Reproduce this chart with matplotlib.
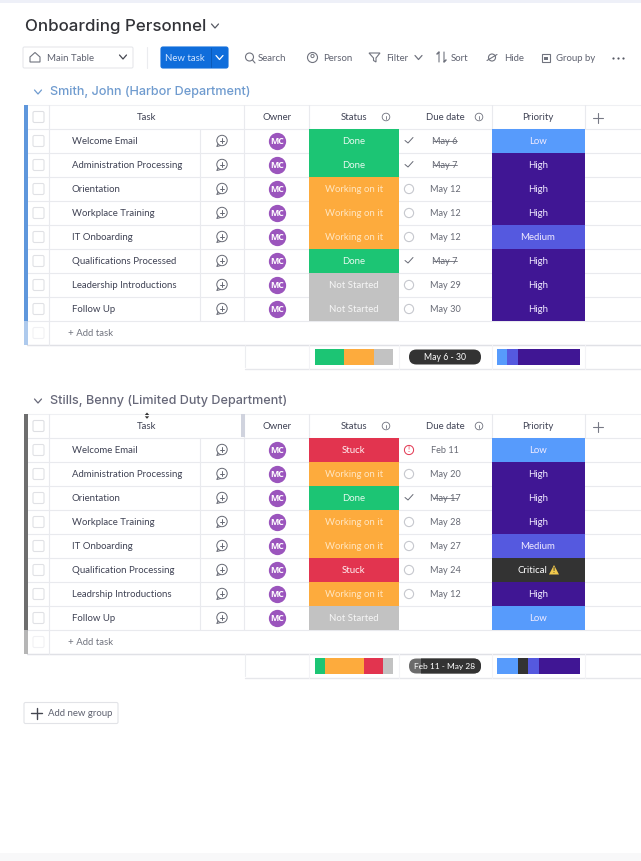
import matplotlib
matplotlib.use("Agg")
import matplotlib.pyplot as plt
from matplotlib.patches import Circle, FancyBboxPatch, Rectangle, Polygon

plt.rcParams["font.family"] = ["Lato", "DejaVu Sans"]

# datos
tareas_1 = ["Welcome Email", "Administration Processing", "Orientation", "Workplace Training",
            "IT Onboarding", "Qualifications Processed", "Leadership Introductions", "Follow Up"]
estado_1 = ["Done", "Done", "Working on it", "Working on it", "Working on it", "Done",
            "Not Started", "Not Started"]
fecha_1 = ["May 6", "May 7", "May 12", "May 12", "May 12", "May 7", "May 29", "May 30"]
prioridad_1 = ["Low", "High", "High", "High", "Medium", "High", "High", "High"]

tareas_2 = ["Welcome Email", "Administration Processing", "Orientation", "Workplace Training",
            "IT Onboarding", "Qualification Processing", "Leadrship Introductions", "Follow Up"]
estado_2 = ["Stuck", "Working on it", "Done", "Working on it", "Working on it", "Stuck",
            "Working on it", "Not Started"]
fecha_2 = ["Feb 11", "May 20", "May 17", "May 28", "May 27", "May 24", "May 12", ""]
prioridad_2 = ["Low", "High", "High", "High", "Medium", "Critical", "High", "Low"]

colores_estado = {"Done": "#1CC574", "Working on it": "#FDAB3D", "Stuck": "#E2344F", "Not Started": "#C2C2C2"}
texto_estado = {"Done": "#E6F9EF", "Working on it": "#FFE6C2", "Stuck": "#FFF0F2", "Not Started": "#F6F6F6"}
colores_prioridad = {"Low": "#579BFC", "Critical": "#333333", "Medium": "#5559DF", "High": "#401694"}
orden_estado = ["Done", "Working on it", "Stuck", "Not Started"]
orden_prioridad = ["Low", "Critical", "Medium", "High"]

herramientas = [(258, "Search"), (323, "Person"), (386, "Filter"), (451, "Sort"), (504, "Hide"), (556, "Group by")]

TXT = "#3F4254"
LINEA = "#E9EAEE"
ICONO = "#70737E"

fig = plt.figure(figsize=(6.41, 8.61), dpi=100)
ax = fig.add_axes([0, 0, 1, 1])
ax.set_xlim(0, 641)
ax.set_ylim(861, 0)
ax.axis("off")


def texto(x, y, s, size=6.9, color=TXT, ha="center", **kw):
    return ax.text(x, y + 0.7, s, fontsize=size, color=color, ha=ha, va="center", **kw)


def linea(xs, ys, color=LINEA, lw=0.8, **kw):
    ax.plot(xs, ys, color=color, lw=lw, solid_capstyle="round", **kw)


def caja(x0, y0, x1, y1, color="none", borde=LINEA, lw=0.8, r=1.5, z=2):
    p = FancyBboxPatch((x0 + r, y0 + r), x1 - x0 - 2 * r, y1 - y0 - 2 * r,
                       boxstyle=f"round,pad={r},rounding_size={r}",
                       fc=color, ec=borde, lw=lw, zorder=z)
    ax.add_patch(p)
    return p


def flecha(x, y, w=3.5, h=2, color=ICONO, lw=0.9):
    linea([x - w, x, x + w], [y - h, y + h, y - h], color=color, lw=lw)


def info(x, y):
    ax.add_patch(Circle((x, y), 3.8, fc="none", ec=ICONO, lw=0.6))
    linea([x, x], [y - 0.6, y + 1.9], color=ICONO, lw=0.6)
    linea([x, x], [y - 1.9, y - 1.7], color=ICONO, lw=0.6)


def comentario(x, y):
    c = "#666974"
    ax.add_patch(Circle((x, y), 5.2, fc="white", ec=c, lw=0.7))
    linea([x - 4, x - 5.2, x - 1.5], [y + 3.5, y + 6, y + 5.1], color=c, lw=0.7)
    linea([x - 2.4, x + 2.4], [y, y], color=c, lw=0.7)
    linea([x, x], [y - 2.4, y + 2.4], color=c, lw=0.7)


def grupo(y_top, titulo, color_titulo, color_barra, tareas, estado, fecha, prioridad):
    y_head = y_top + 11.5
    y_filas = y_top + 24
    n = len(tareas)
    y_add = y_filas + 24 * n
    y_fin = y_add + 24
    y_sum = y_fin + 24

    # titulo del grupo
    flecha(38, y_top - 13, color=color_titulo)
    texto(50, y_top - 14, titulo, size=9.1, color=color_titulo, ha="left",
          family=["Inter", "DejaVu Sans"], weight="medium")

    # fondo y barra lateral
    ax.add_patch(Rectangle((24, y_top), 3.5, y_add - y_top, fc=color_barra, ec="none", zorder=3))
    ax.add_patch(Rectangle((24, y_add), 3.5, 24, fc=color_barra, ec="none", alpha=0.5, zorder=3))
    linea([27, 641], [y_top, y_top], color="#EFF0F3")
    linea([27, 641], [y_filas, y_filas])
    for i in range(1, n + 2):
        linea([27, 641], [y_filas + 24 * i, y_filas + 24 * i])
    linea([27, 641], [y_fin, y_fin], color="#E0E1E6", lw=1.0)

    # columnas
    linea([49, 49], [y_top, y_fin])
    linea([200, 200], [y_filas, y_add])
    linea([244, 244], [y_top, y_add])
    linea([309, 309], [y_top, y_filas])
    linea([492, 492], [y_top, y_filas])
    linea([585, 585], [y_top, y_filas])

    # encabezado
    texto(147, y_head, "Task")
    texto(277, y_head, "Owner")
    texto(354, y_head, "Status")
    info(386, y_head + 0.5)
    texto(445, y_head, "Due date")
    info(479, y_head + 0.5)
    texto(538, y_head, "Priority")
    linea([593, 603], [y_head + 1, y_head + 1], color="#777985", lw=0.8)
    linea([598, 598], [y_head - 4, y_head + 6], color="#777985", lw=0.8)
    caja(33, y_head - 5, 44, y_head + 6, borde="#DEDFE3")

    # filas
    centros = [y_filas + 12 + 24 * i for i in range(n)]
    ax.barh(centros, [90] * n, left=309, height=23.2,
            color=[colores_estado[e] for e in estado], zorder=2)
    ax.barh(centros, [93] * n, left=492, height=23.2,
            color=[colores_prioridad[p] for p in prioridad], zorder=2)
    ax.scatter([277] * n, centros, s=155, color="#9B55BD", zorder=3, linewidths=0)

    for y, t, e, f, p in zip(centros, tareas, estado, fecha, prioridad):
        caja(33, y - 5.5, 44, y + 5.5, borde="#E0E1E5")
        texto(72, y, t, ha="left")
        comentario(222, y - 0.5)
        texto(277, y - 0.5, "MC", size=6.3, color="white", weight="bold", zorder=4,
              family=["Open Sans", "DejaVu Sans"])
        texto(354, y, e, color=texto_estado[e], zorder=4)
        if p == "Critical":
            texto(532, y, p, color="white", zorder=4)
            ax.add_patch(Polygon([[549, y + 4.5], [559, y + 4.5], [554, y - 5]], fc="#F2C94C", ec="none", zorder=4))
            texto(554, y, "!", size=5, color="#333333", weight="bold", zorder=5)
        else:
            texto(538, y, p, color="#F1EBFF", zorder=4)
        if f == "":
            continue
        texto(445, y - 0.5, f, size=6.6, color="#666974")
        if e == "Done":
            linea([405, 408, 413], [y - 0.5, y + 2, y - 3.5], color="#666974", lw=0.7)
            linea([433, 457], [y, y], color="#666974", lw=0.6)
        elif f == "Feb 11":
            ax.add_patch(Circle((409, y), 4.6, fc="none", ec="#E2344F", lw=0.7))
            texto(409, y - 0.7, "!", size=5.5, color="#E2344F")
        else:
            ax.add_patch(Circle((409, y), 4.6, fc="none", ec="#C6C8CE", lw=0.8))

    # agregar tarea
    caja(33, y_add + 6.5, 44, y_add + 17.5, borde="#F1F1F4")
    texto(67.5, y_add + 12, "+ Add task", color="#71747F", ha="left")

    # fila resumen
    y_c = y_fin + 12
    linea([245, 641], [y_sum, y_sum], color="#E6E7EB", lw=1.0)
    linea([245, 245], [y_fin, y_sum - 2], color="#ECEDF0")
    for x in [309, 399, 492, 585]:
        linea([x, x], [y_fin, y_sum], color="#F3F3F6")

    izq = 315.0
    for e in orden_estado:
        w = 78 * estado.count(e) / n
        ax.barh(y_c, w, left=izq, height=16, color=colores_estado[e], zorder=3)
        izq += w
    izq = 497.0
    for p in orden_prioridad:
        w = 83 * prioridad.count(p) / n
        ax.barh(y_c, w, left=izq, height=16, color=colores_prioridad[p], zorder=3)
        izq += w


# franja superior e inferior
ax.add_patch(Rectangle((0, 0), 641, 3, fc="#EEF0F8", ec="none"))
ax.add_patch(Rectangle((0, 853), 641, 8, fc="#F8F8F9", ec="none"))

# encabezado de la pagina
texto(25, 25.5, "Onboarding Personnel", size=12.2, color="#323338", ha="left",
      family=["Inter", "DejaVu Sans"], weight="medium")
flecha(215, 26, color="#555862")

caja(23, 47, 133, 68, color="white", borde="#E6E7EB")
ax.add_patch(Polygon([[30, 57], [35, 52.5], [40, 57], [40, 62], [30, 62]], fc="none", ec=ICONO, lw=0.8, zorder=3))
texto(47, 57.5, "Main Table", ha="left", color="#5F6270")
flecha(123, 57, color="#444650")
linea([147, 147], [47, 68], color="#EBECEF")
caja(161, 47, 228, 68, color="#0F6DDB", borde="#0F6DDB", r=2)
texto(185, 57.5, "New task", color="#CFE4FF")
linea([211, 211], [48, 67], color="#0A5AB8", lw=0.7)
flecha(219.5, 57.5, color="white")

for x, s in herramientas:
    texto(x, 57.5, s, ha="left", color="#5F6270")
ax.add_patch(Circle((249.5, 57), 4, fc="none", ec=ICONO, lw=0.8))
linea([252.5, 255], [60, 63], color=ICONO)
ax.add_patch(Circle((312.5, 57.5), 5, fc="none", ec=ICONO, lw=0.8))
ax.add_patch(Circle((312.5, 56), 1.6, fc="none", ec=ICONO, lw=0.7))
ax.add_patch(Polygon([[369, 53], [380, 53], [376, 58], [376, 62], [373.5, 60.5], [373.5, 58]], fc="none", ec=ICONO, lw=0.8))
flecha(418.5, 57.5)
linea([439, 439, 437, 439], [62, 52, 54, 52], color=ICONO)
linea([444, 444, 446, 444], [52, 62, 60, 62], color=ICONO)
ax.add_patch(Circle((492, 57.5), 3.5, fc="none", ec=ICONO, lw=0.8))
linea([487, 497], [60.5, 54.5], color=ICONO)
ax.add_patch(Rectangle((541.5, 53.5), 8, 8, fc="none", ec=ICONO, lw=0.8))
ax.add_patch(Rectangle((544, 57), 4, 3, fc=ICONO, ec="none"))
ax.scatter([613, 618, 622.5], [57.5] * 3, s=2.5, color="#555862", linewidths=0)

grupo(105, "Smith, John (Harbor Department)", "#6F9BCF", "#5F97DC",
      tareas_1, estado_1, fecha_1, prioridad_1)
grupo(414, "Stills, Benny (Limited Duty Department)", "#676879", "#6E6E6E",
      tareas_2, estado_2, fecha_2, prioridad_2)

# rangos de fechas
caja(409, 349.5, 481, 364.5, color="#333333", borde="none", r=7.4, z=4)
texto(445, 356.5, "May 6 - 30", size=6.2, color="white", zorder=5)
caja(409, 658.5, 481, 673.5, color="#6B6B6B", borde="none", r=7.4, z=4)
pildora = caja(409, 658.5, 481, 673.5, color="#333333", borde="none", r=7.4, z=4)
pildora.set_clip_path(Rectangle((421, 650), 70, 30, transform=ax.transData))
texto(445, 665.5, "Feb 11 - May 28", size=6, color="white", zorder=5)

# detalles del segundo encabezado
ax.add_patch(Rectangle((240.5, 414), 4, 23, fc="#D0D3DE", ec="none", zorder=3))
ax.add_patch(Polygon([[144.8, 415], [149.2, 415], [147, 412.5]], fc="#333333", ec="none", zorder=4))
ax.add_patch(Polygon([[144.8, 416.3], [149.2, 416.3], [147, 418.8]], fc="#333333", ec="none", zorder=4))

# boton nuevo grupo
caja(24, 702.5, 118, 723.5, color="white", borde="#E2E3E7")
linea([31, 42], [713, 713], color="#444650", lw=1.0)
linea([36.5, 36.5], [707.5, 718.5], color="#444650", lw=1.0)
texto(48.5, 713, "Add new group", ha="left", color="#5F6270")

fig.savefig("out.png", dpi=100)
